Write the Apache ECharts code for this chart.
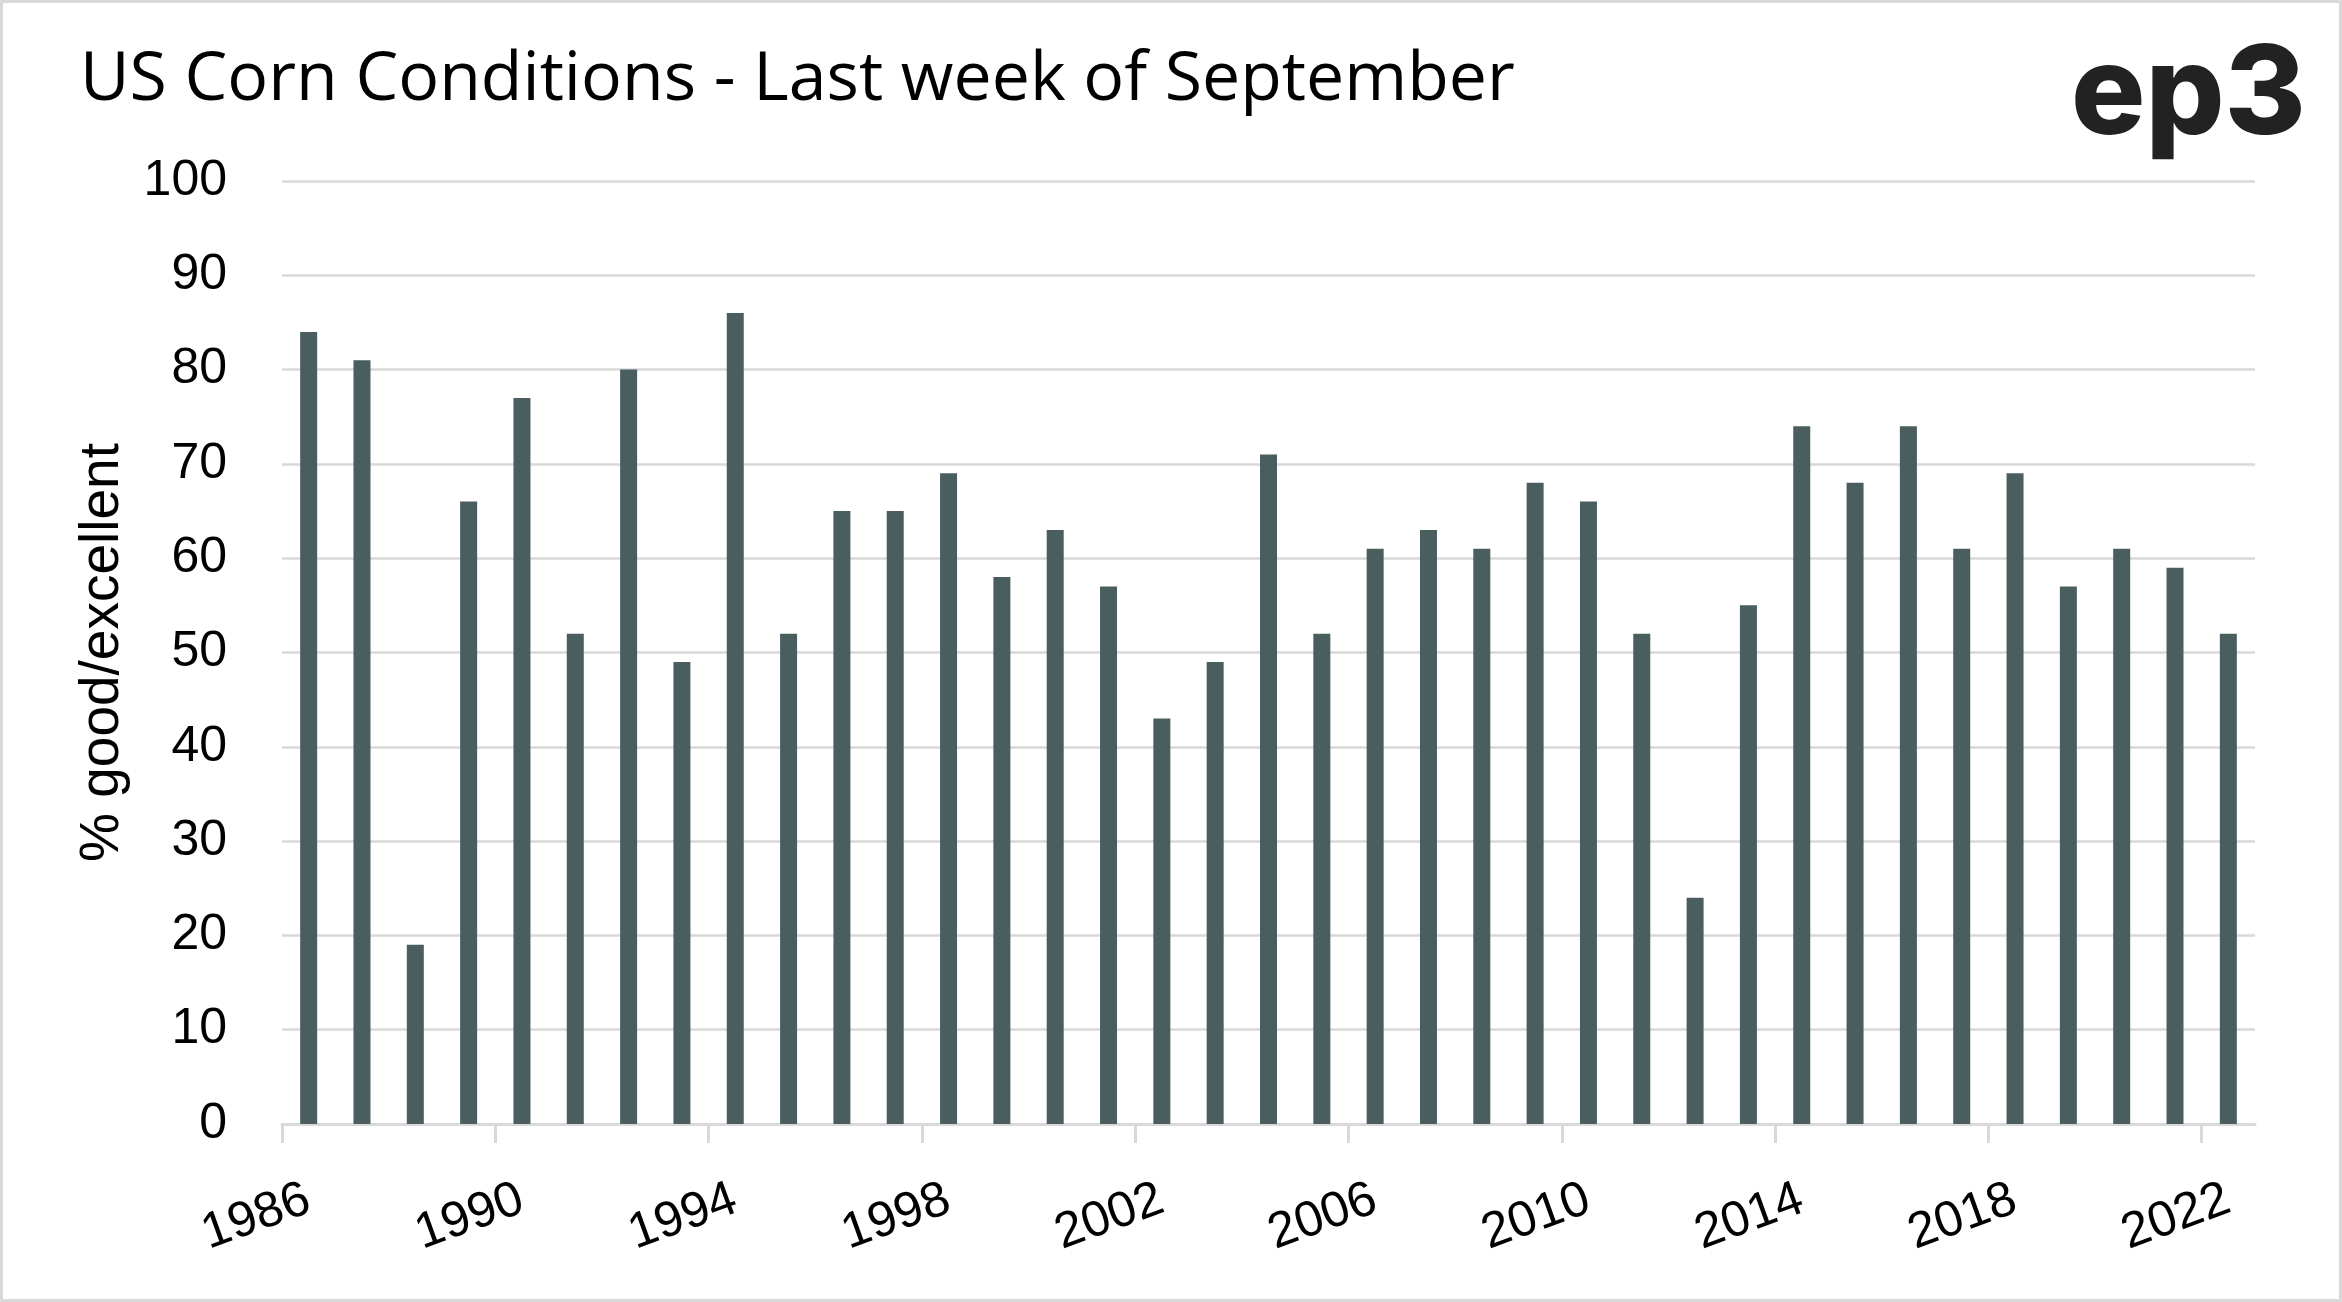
<!DOCTYPE html>
<html><head><meta charset="utf-8">
<script src="https://cdn.jsdelivr.net/npm/echarts@6/dist/echarts.min.js"></script>
<style>html,body{margin:0;padding:0;background:#fff}#c{width:2342px;height:1302px}</style>
</head><body><div id="c"></div>
<script>
const years = ['1986','1987','1988','1989','1990','1991','1992','1993','1994','1995','1996','1997','1998','1999','2000','2001','2002','2003','2004','2005','2006','2007','2008','2009','2010','2011','2012','2013','2014','2015','2016','2017','2018','2019','2020','2021','2022'];
const goodExcellent = [84,81,19,66,77,52,80,49,86,52,65,65,69,58,63,57,43,49,71,52,61,63,61,68,66,52,24,55,74,68,74,61,69,57,61,59,52];
const yMin = 0, yMax = 100, yStep = 10;
const labelEvery = 4;
const titleText = 'US Corn Conditions - Last week of September';
const yName = '% good/excellent';
const logoText = 'ep3';

// tick positions at the left boundary of every 4th category (built from the year list)
const tickIdx = years.map((y, i) => i).filter(i => i % labelEvery === 0);

const chart = echarts.init(document.getElementById('c'), null, {renderer:'canvas'});
const axisFont = 'Liberation Sans';
chart.setOption({
  animation: false,
  backgroundColor: '#ffffff',
  title: {
    text: titleText, left: 75, top: 42,
    textStyle: {fontFamily: 'Open Sans', fontSize: 68, fontWeight: 'normal', color: '#000'}
  },
  graphic: [
    {type:'rect', shape:{x:1.5, y:1.5, width:2339, height:1299}, style:{fill:'none', stroke:'#d9d9d9', lineWidth:3}, silent:true, z:100},
    {type:'text', x:2306, y:97, style:{text: logoText, font:'800 124px Inter', fill:'#222222', align:'right', verticalAlign:'middle'}}
  ],
  grid: {left: 282, right: 87, top: 181, bottom: 178, containLabel: false},
  xAxis: [{
    type: 'category', data: years, boundaryGap: true,
    axisLine: {show: true, lineStyle: {color: '#d9d9d9', width: 3}},
    axisTick: {show: false},
    axisLabel: {interval: labelEvery - 1, rotate: 20, margin: 74, fontFamily: axisFont, fontSize: 50, color: '#000'}
  }, {
    type: 'value', position: 'bottom', min: 0, max: years.length,
    axisLine: {show: false}, axisLabel: {show: false}, splitLine: {show: false},
    axisTick: {show: true, customValues: tickIdx, length: 19, lineStyle: {color: '#d9d9d9', width: 3}}
  }],
  yAxis: {
    type: 'value', min: yMin, max: yMax, interval: yStep,
    name: yName, nameLocation: 'middle', nameGap: 152,
    nameTextStyle: {fontFamily: axisFont, fontSize: 55, color: '#000'},
    axisLine: {show: false}, axisTick: {show: false},
    axisLabel: {margin: 55, fontFamily: axisFont, fontSize: 50, color: '#000'},
    splitLine: {show: true, lineStyle: {color: '#d9d9d9', width: 2.5}}
  },
  series: [{
    type: 'bar', xAxisIndex: 0, data: goodExcellent, barWidth: 17,
    itemStyle: {color: '#4a5e60'}
  }]
});
</script></body></html>
